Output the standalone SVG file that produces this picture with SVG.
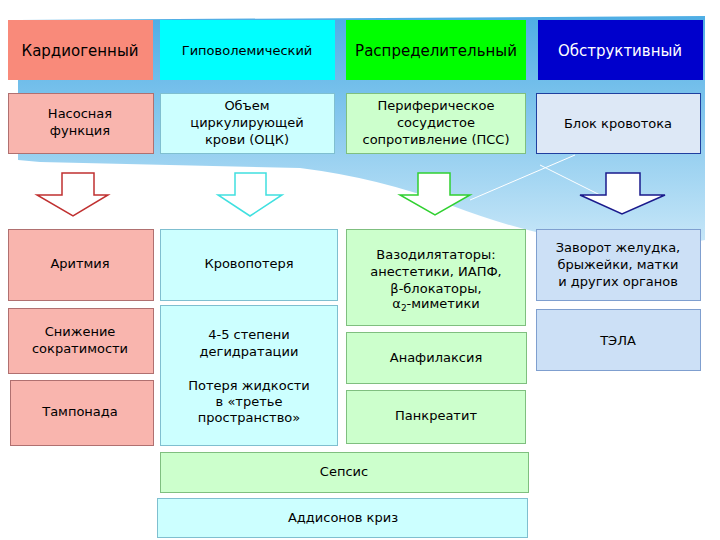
<svg xmlns="http://www.w3.org/2000/svg" width="720" height="540" viewBox="0 0 720 540">
<defs>
<linearGradient id="sw" x1="0" y1="0" x2="0" y2="1"><stop offset="0" stop-color="#2f9fe0"/><stop offset="1" stop-color="#bfe3f7"/></linearGradient>
<style>
text{font-family:Verdana,"DejaVu Sans",sans-serif;font-size:13px;fill:#000;text-anchor:middle}
.t{font-size:15px}
.b{stroke-width:1}
.pk{fill:#f9b5ae;stroke:#b07070}
.cy{fill:#ccffff;stroke:#7fbfd0}
.gr{fill:#ccffcc;stroke:#7fbf7f}
.bl{fill:#cce0f6;stroke:#7f9fcf}
</style>
</defs>
<rect width="720" height="540" fill="#fff"/>
<g id="bg">
<path d="M18,20 L705,16 L705,240 Q600,262 450,205 Q380,178 300,168 L40,162 L18,160 Z" fill="url(#sw)" opacity="0.85"/>
<path d="M470,200 L575,155 M540,165 L610,200" stroke="#fff" stroke-width="1" fill="none"/>
</g>
<g id="top">
<g id="n1"><rect x="8" y="20" width="145" height="60" fill="#f98a7a"/><text class="t" x="80" y="56">Кардиогенный</text></g>
<g id="n2"><rect x="160" y="20" width="175" height="60" fill="#00ffff"/><text x="247" y="55">Гиповолемический</text></g>
<g id="n3"><rect x="346" y="20" width="180" height="60" fill="#00ff00"/><text class="t" x="436" y="56">Распределительный</text></g>
<g id="n4"><rect x="538" y="20" width="165" height="60" fill="#0000cc"/><text class="t" x="620" y="56" style="fill:#fff">Обструктивный</text></g>
</g>
<g id="second">
<g id="m1"><rect class="pk" x="8.5" y="93.5" width="145" height="60"/><text x="80" y="118">Насосная</text><text x="80" y="135">функция</text></g>
<g id="m2"><rect class="cy" x="160.5" y="93.5" width="174" height="60"/><text x="247" y="110">Объем</text><text x="247" y="127">циркулирующей</text><text x="247" y="144">крови (ОЦК)</text></g>
<g id="m3"><rect class="gr" x="346.5" y="93.5" width="179" height="60"/><text x="436" y="110">Периферическое</text><text x="436" y="127">сосудистое</text><text x="436" y="144">сопротивление (ПСС)</text></g>
<g id="m4"><rect x="536.5" y="93.5" width="164" height="60" fill="#dde8f6" stroke="#1f3f9f"/><text x="618" y="128">Блок кровотока</text></g>
</g>
<g id="connectors" fill="#fff" stroke-width="1.5">
<path d="M62,173 H94 V195 H108 L73,216 L37,195 H62 Z" stroke="#c03030"/>
<path d="M235,173 H266 V195 H282 L250,216 L218,195 H235 Z" stroke="#40e0e0"/>
<path d="M418,173 H450 V195 H470 L435,215 L400,195 H418 Z" stroke="#30d030"/>
<path d="M606,173 H640 V195 H665 L622,214 L580,195 H606 Z" stroke="#1a1a8c"/>
</g>
<g id="col1">
<g id="a1"><rect class="pk" x="8.5" y="229.5" width="145" height="71"/><text x="80" y="268">Аритмия</text></g>
<g id="a2"><rect class="pk" x="8.5" y="308.5" width="145" height="65"/><text x="80" y="336">Снижение</text><text x="80" y="353">сократимости</text></g>
<g id="a3"><rect class="pk" x="10.5" y="380.5" width="143" height="65"/><text x="80" y="416">Тампонада</text></g>
</g>
<g id="col2">
<g id="b1"><rect class="cy" x="160.5" y="229.5" width="177" height="71"/><text x="249" y="268">Кровопотеря</text></g>
<g id="b2"><rect class="cy" x="160.5" y="305.5" width="177" height="140"/><text x="249" y="339">4-5 степени</text><text x="249" y="356">дегидратации</text><text x="249" y="390">Потеря жидкости</text><text x="249" y="406">в «третье</text><text x="249" y="422">пространство»</text></g>
</g>
<g id="col3">
<g id="c1"><rect class="gr" x="346.5" y="229.5" width="179" height="96"/><text x="436" y="259">Вазодилятаторы:</text><text x="436" y="276">анестетики, ИАПФ,</text><text x="436" y="293">β-блокаторы,</text><text x="436" y="308">α<tspan font-size="9" dy="3">2</tspan><tspan dy="-3">-миметики</tspan></text></g>
<g id="c2"><rect class="gr" x="346.5" y="332.5" width="180" height="51"/><text x="436" y="362">Анафилаксия</text></g>
<g id="c3"><rect class="gr" x="346.5" y="390.5" width="179" height="53"/><text x="436" y="420">Панкреатит</text></g>
</g>
<g id="col4">
<g id="d1"><rect class="bl" x="536.5" y="229.5" width="164" height="71"/><text x="618" y="252">Заворот желудка,</text><text x="618" y="269">брыжейки, матки</text><text x="618" y="286">и других органов</text></g>
<g id="d2"><rect class="bl" x="536.5" y="309.5" width="164" height="61"/><text x="618" y="345">ТЭЛА</text></g>
</g>
<g id="bottom">
<g id="e1"><rect class="gr" x="160.5" y="452.5" width="368" height="40"/><text x="344" y="476">Сепсис</text></g>
<g id="e2"><rect class="cy" x="157.5" y="498.5" width="370" height="39"/><text x="343" y="522">Аддисонов криз</text></g>
</g>
</svg>
